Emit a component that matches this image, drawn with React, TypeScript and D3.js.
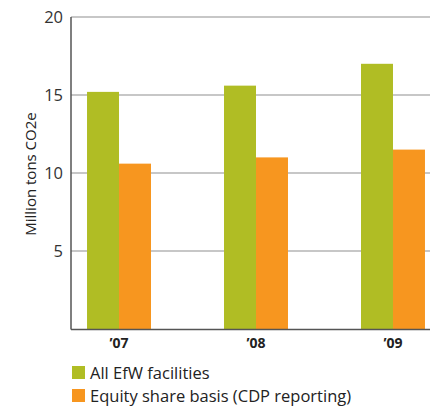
import React from 'react'
import * as d3 from 'd3'

const years = ['’07', '’08', '’09']
const seriesNames = ['All EfW facilities', 'Equity share basis (CDP reporting)']
const allFacilities = [15.2, 15.6, 17.0]
const equityShare = [10.6, 11.0, 11.5]
const yTicks = [5, 10, 15, 20]
const colors = ['#b0bd24', '#f7961f']

const W = 430
const H = 406
const font = '"Open Sans", "Noto Sans", sans-serif'

export default function App() {
  const margin = { left: 71, top: 17, bottom: 329 }

  const y = d3.scaleLinear().domain([0, 20]).range([margin.bottom, margin.top])

  // groups: 64px wide, 137px apart, first one starting at x=87
  const x = d3.scaleBand<string>()
    .domain(years)
    .range([margin.left, 441])
    .paddingInner(0.533)
    .paddingOuter(0.117)

  const xs = d3.scaleBand<number>()
    .domain([0, 1])
    .range([0, x.bandwidth()])

  const series = [allFacilities, equityShare]

  return (
    <svg
      width={W}
      height={H}
      style={{ position: 'absolute', left: 0, top: 0, background: '#fff' }}
      fontFamily={font}
    >
      {/* gridlines */}
      {yTicks.map(t => (
        <g key={t}>
          <line x1={margin.left} x2={W} y1={y(t)} y2={y(t)} stroke="#b4b4b4" strokeWidth={1.5} />
          <text x={63} y={y(t)} dy="0.35em" textAnchor="end" fontSize={16.5} fill="#333">
            {t}
          </text>
        </g>
      ))}

      {/* bars */}
      {years.map((yr, i) => (
        <g key={yr} transform={`translate(${x(yr)},0)`}>
          {series.map((s, j) => (
            <rect
              key={j}
              x={xs(j)}
              y={y(s[i])}
              width={xs.bandwidth()}
              height={y(0) - y(s[i])}
              fill={colors[j]}
            />
          ))}
          <text
            x={x.bandwidth() / 2}
            y={margin.bottom + 14}
            dy="0.35em"
            textAnchor="middle"
            fontSize={14}
            fontWeight="bold"
            fill="#222"
          >
            {yr}
          </text>
        </g>
      ))}

      {/* axes */}
      <line x1={margin.left} x2={margin.left} y1={margin.top} y2={margin.bottom + 0.5} stroke="#555" strokeWidth={1.5} />
      <line x1={margin.left} x2={W} y1={margin.bottom + 0.5} y2={margin.bottom + 0.5} stroke="#555" strokeWidth={1.5} />

      {/* y label */}
      <text
        transform={`translate(31,${(margin.top + margin.bottom) / 2 + 1}) rotate(-90)`}
        textAnchor="middle"
        dy="0.35em"
        fontSize={15}
        fill="#222"
      >
        Million tons CO2e
      </text>

      {/* legend */}
      {seriesNames.map((name, j) => (
        <g key={name} transform={`translate(72,${366 + j * 23})`}>
          <rect width={13} height={13} fill={colors[j]} />
          <text x={18} y={7} dy="0.35em" fontSize={16.5} fill="#222">
            {name}
          </text>
        </g>
      ))}
    </svg>
  )
}
